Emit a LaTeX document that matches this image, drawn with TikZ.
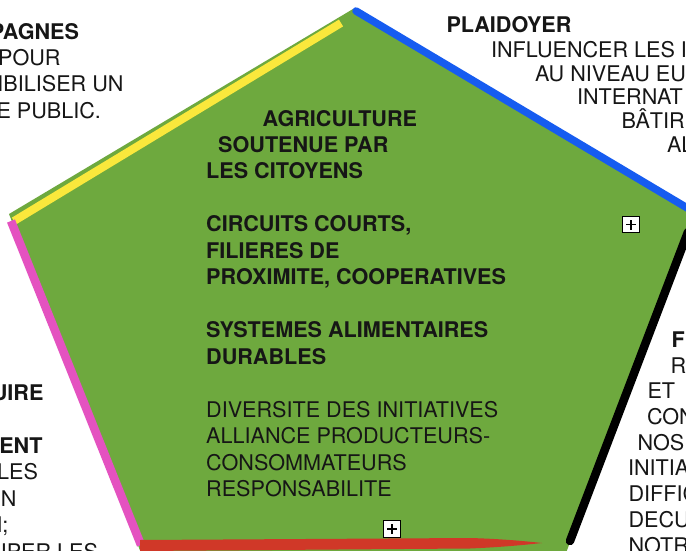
\documentclass[tikz,border=0pt]{standalone}
\usepackage{fontspec}
\setmainfont{TeX Gyre Heros}
\definecolor{leaf}{RGB}{110,169,62}
\definecolor{yel}{RGB}{250,232,60}
\definecolor{blu}{RGB}{22,92,240}
\definecolor{pnk}{RGB}{228,82,192}
\definecolor{redc}{RGB}{208,56,40}
\definecolor{ink}{RGB}{22,22,22}
\newcommand\txtsize{\fontsize{21.6}{26.5}\selectfont}
\begin{document}
\begin{tikzpicture}[x=1pt,y=-1pt,
  frag/.style={inner sep=0pt, outer sep=0pt, font=\txtsize, text=ink},
  fragb/.style={frag, font=\txtsize\bfseries},
  edge/.style={line width=8pt},
  plusbox/.style={draw=black, fill=white, line width=1.3pt, minimum size=16.5pt, inner sep=0pt,
    path picture={\draw[line width=1.3pt]
      ([xshift=-5pt]path picture bounding box.center) -- ([xshift=5pt]path picture bounding box.center)
      ([yshift=-5pt]path picture bounding box.center) -- ([yshift=5pt]path picture bounding box.center);}}]
\useasboundingbox (0,0) rectangle (686,551);
\clip (0,0) rectangle (686,551);
\fill[white] (0,0) rectangle (686,551);

% pentagon
\coordinate (T) at (353,9);
\coordinate (R) at (694,212);
\coordinate (BR) at (566,553);
\coordinate (BL) at (141,553);
\coordinate (L) at (9,214);
\fill[leaf] (T) -- (R) -- (BR) -- (BL) -- (L) -- cycle;

% coloured edges
\coordinate (y1) at (14,221);
\coordinate (y2) at (341,23);
\draw[edge, yel] (y1) -- (y2);
\coordinate (b1) at (356,11);
\coordinate (b2) at (689,209);
\draw[edge, blu, line width=7.5pt, line cap=round] (b1) -- (b2);
\coordinate (p1) at (11,221);
\coordinate (p2) at (141,545);
\draw[edge, pnk, line width=8.5pt] (p1) -- (p2);
\coordinate (k1) at (688,232);
\coordinate (k2) at (570,541);
\draw[edge, black, line width=8.5pt, line cap=round] (k1) -- (k2);
\fill[redc] (140,540) -- (470,538) .. controls (505,539) and (528,541.5) .. (542,543)
  .. controls (528,544.5) and (505,547) .. (470,548.5) -- (140,551) -- cycle;

% central text
\node[anchor=base west, inner sep=0pt, font=\txtsize\bfseries, text=ink] (centre) at (206,126) {%
\begin{tabular}[t]{@{}l@{}}
\hspace*{56.5pt}AGRICULTURE\\
\hspace*{12pt}SOUTENUE PAR\\
LES CITOYENS\\
\\
CIRCUITS COURTS,\\
FILIERES DE\\
PROXIMITE, COOPERATIVES\\
\\
SYSTEMES ALIMENTAIRES\\
DURABLES\\
\\
\mdseries DIVERSITE DES INITIATIVES\\
\mdseries ALLIANCE PRODUCTEURS-\\
\mdseries CONSOMMATEURS\\
\mdseries RESPONSABILITE
\end{tabular}};

% top-left fragments
\node[fragb, anchor=base east] (tl1) at (79,40) {PAGNES};
\node[frag, anchor=base east] (tl2) at (60.5,65.5) {POUR};
\node[frag, anchor=base east] (tl3) at (123.5,92) {IBILISER UN};
\node[frag, anchor=base east] (tl4) at (101,118) {E PUBLIC.};

% top-right fragments
\node[fragb, anchor=base west] (tr1) at (446.5,33) {PLAIDOYER};
\node[frag, anchor=base west] (tr2) at (491,57.5) {INFLUENCER LES I};
\node[frag, anchor=base west] (tr3) at (535,81.5) {AU NIVEAU EU};
\node[frag, anchor=base west] (tr4) at (577,105) {INTERNAT};
\node[frag, anchor=base west] (tr5) at (621.5,128.5) {BÂTIR};
\node[frag, anchor=base west] (tr6) at (667,152) {AL};

% right-middle fragments
\node[fragb, anchor=base west] (rm1) at (671.5,347) {F};
\node[frag, anchor=base west] (rm2) at (670.5,373) {R};
\node[frag, anchor=base west] (rm3) at (647.5,398) {ET};
\node[frag, anchor=base west] (rm4) at (647,424) {CON};
\node[frag, anchor=base west] (rm5) at (637.5,450) {NOS};
\node[frag, anchor=base west] (rm6) at (628,475.5) {INITIA};
\node[frag, anchor=base west] (rm7) at (628.5,501) {DIFFIC};
\node[frag, anchor=base west] (rm8) at (628.5,527) {DECU};
\node[frag, anchor=base west] (rm9) at (628.5,553) {NOTR};

% bottom-left fragments
\node[fragb, anchor=base east] (bl1) at (43.5,400) {UIRE};
\node[fragb, anchor=base east] (bl2) at (42.5,453) {ENT};
\node[frag, anchor=base east] (bl3) at (38,479.5) {LES};
\node[frag, anchor=base east] (bl4) at (16.5,506) {N};
\node[frag, anchor=base east] (bl5) at (8.5,532.5) {N;};
\node[frag, anchor=base east] (bl6) at (98,559) {IPER LES};

% expand boxes
\node[plusbox] (pb1) at (631,224.5) {};
\node[plusbox] (pb2) at (392,529) {};
\end{tikzpicture}
\end{document}
